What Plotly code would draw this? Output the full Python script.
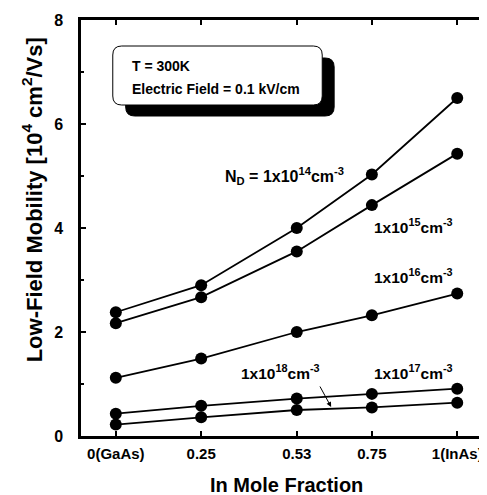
import plotly.graph_objects as go

x_vals = [0, 0.25, 0.53, 0.75, 1.0]
x_labels = ["0(GaAs)", "0.25", "0.53", "0.75", "1(InAs)"]
y_ticks = [0, 2, 4, 6, 8]
mob_1e14 = [2.38, 2.90, 4.00, 5.03, 6.50]
mob_1e15 = [2.17, 2.67, 3.55, 4.44, 5.43]
mob_1e16 = [1.12, 1.49, 2.00, 2.32, 2.74]
mob_1e17 = [0.43, 0.58, 0.72, 0.81, 0.91]
mob_1e18 = [0.22, 0.36, 0.50, 0.55, 0.64]

W, H = 487, 495
L, R, T, B = 73, 2, 12, 67
pw, ph = W - L - R, H - T - B

def px(x):
    return (x - L) / pw

def py(y):
    return (H - B - y) / ph

fig = go.Figure()
for ys in [mob_1e14, mob_1e15, mob_1e16, mob_1e17, mob_1e18]:
    fig.add_trace(go.Scatter(x=x_vals, y=ys, mode="lines+markers",
                             line=dict(color="black", width=1.8),
                             marker=dict(color="black", size=12),
                             showlegend=False, cliponaxis=False))

def rounded(x0, y0, x1, y1, r):
    X = lambda v: px(v)
    Y = lambda v: py(v)
    return (f"M {X(x0+r)},{Y(y0)} L {X(x1-r)},{Y(y0)} Q {X(x1)},{Y(y0)} {X(x1)},{Y(y0+r)} "
            f"L {X(x1)},{Y(y1-r)} Q {X(x1)},{Y(y1)} {X(x1-r)},{Y(y1)} "
            f"L {X(x0+r)},{Y(y1)} Q {X(x0)},{Y(y1)} {X(x0)},{Y(y1-r)} "
            f"L {X(x0)},{Y(y0+r)} Q {X(x0)},{Y(y0)} {X(x0+r)},{Y(y0)} Z")

shapes = [
    dict(type="path", xref="paper", yref="paper", path=rounded(118, 50, 328, 108, 9),
         fillcolor="black", line=dict(color="black", width=1)),
    dict(type="path", xref="paper", yref="paper", path=rounded(105, 38, 316, 97, 9),
         fillcolor="white", line=dict(color="black", width=1)),
]

font_b = dict(family="Liberation Sans, Arial, sans-serif", color="black")

def ann(text, x, y, size=13, xanchor="left", angle=0):
    return dict(text=f"<b>{text}</b>", xref="paper", yref="paper", x=px(x), y=py(y),
                xanchor=xanchor, yanchor="middle", showarrow=False, textangle=angle,
                font=dict(size=size, **font_b))

annotations = [
    ann("T = 300K", 122, 58, 14),
    ann("Electric Field = 0.1 kV/cm", 122, 81, 14),
    ann("N<sub>D</sub> = 1x10<sup>14</sup>cm<sup>-3</sup>", 216, 168, 16),
    ann("1x10<sup>15</sup>cm<sup>-3</sup>", 366, 218, 15.5),
    ann("1x10<sup>16</sup>cm<sup>-3</sup>", 366, 268, 15.5),
    ann("1x10<sup>18</sup>cm<sup>-3</sup>", 232, 364, 15.5),
    ann("1x10<sup>17</sup>cm<sup>-3</sup>", 366, 364, 15.5),
    ann("In Mole Fraction", 280, 477, 20, xanchor="center"),
    dict(text="<b>Low-Field Mobility [10<sup>4</sup> cm<sup>2</sup>/Vs]</b>", xref="paper", yref="paper",
         x=px(24), y=py(192), xanchor="center", yanchor="middle", showarrow=False,
         textangle=-90, font=dict(size=22, **font_b)),
    dict(text="", xref="paper", yref="paper", axref="pixel", ayref="pixel",
         x=px(325), y=py(399), ax=-12, ay=-22, showarrow=True,
         arrowhead=2, arrowsize=1, arrowwidth=1, arrowcolor="black"),
]

fig.update_layout(
    width=W, height=H,
    margin=dict(l=L, r=R, t=T, b=B),
    paper_bgcolor="white", plot_bgcolor="white",
    shapes=shapes, annotations=annotations,
    font=dict(size=16, **font_b),
    xaxis=dict(range=[-0.102, 1.096], tickvals=x_vals, ticktext=[f"<b>{t}</b>" for t in x_labels],
               ticks="inside", ticklen=5, tickwidth=1.5, tickcolor="black",
               showline=True, linecolor="black", linewidth=2.5, mirror="ticks",
               showgrid=False, zeroline=False, ticklabelstandoff=2,
               tickfont=dict(size=15, **font_b)),
    yaxis=dict(range=[0, 8], tickvals=y_ticks, ticktext=[f"<b>{t}</b>" for t in y_ticks],
               ticks="inside", ticklen=5, tickwidth=1.5, tickcolor="black",
               minor=dict(tickvals=[1, 3, 5, 7], ticks="inside", ticklen=3, tickcolor="black"),
               showline=True, linecolor="black", linewidth=2.5, mirror="ticks",
               showgrid=False, zeroline=False, ticklabelstandoff=12,
               tickfont=dict(size=16, **font_b)),
)

fig.write_html("out.html")
